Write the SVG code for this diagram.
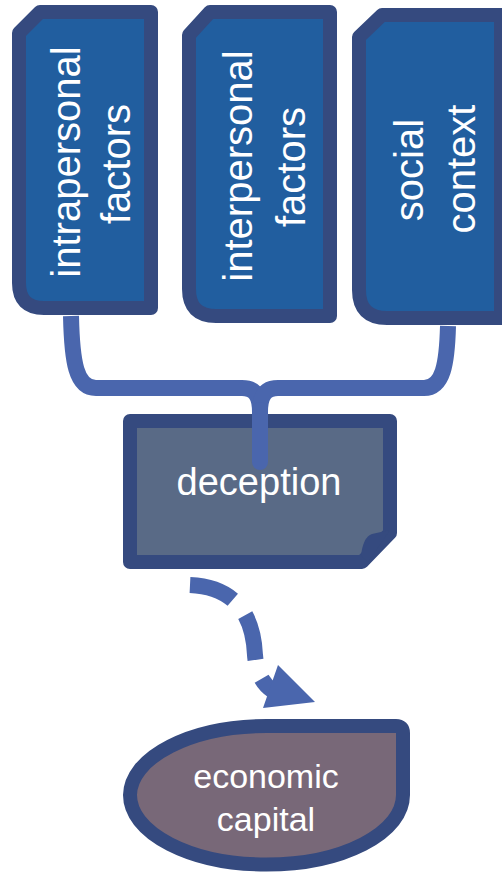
<svg xmlns="http://www.w3.org/2000/svg" width="502" height="872" viewBox="0 0 502 872">
<style>
.box{fill:#215E9F;stroke:#354A7F;stroke-width:14;stroke-linejoin:round}
.t{font-family:"Liberation Sans",Arial,sans-serif;fill:#FFFFFF;text-anchor:middle}
.con{fill:none;stroke:#4A66AD;stroke-width:16;stroke-linejoin:round}
</style>
<rect width="502" height="872" fill="#FFFFFF"/>
<g id="intrapersonal">
<path class="box" d="M40,12 L151,12 L151,308 L44,308 Q19,308 19,283 L19,33 Z"/>
<text class="t" font-size="40" transform="translate(80,162) rotate(-90)">intrapersonal</text>
<text class="t" font-size="40" transform="translate(130,164) rotate(-90)">factors</text>
</g>
<g id="interpersonal">
<path class="box" d="M210,12 L330,12 L330,316 L216,316 Q189,316 189,289 L189,35 Z"/>
<text class="t" font-size="40" transform="translate(252,166) rotate(-90)">interpersonal</text>
<text class="t" font-size="40" transform="translate(305,167) rotate(-90)">factors</text>
</g>
<g id="social">
<path class="box" d="M382,15 L501,15 L501,318 L387,318 Q359,318 359,290 L359,37 Z"/>
<text class="t" font-size="40" transform="translate(423,170) rotate(-90)">social</text>
<text class="t" font-size="40" transform="translate(475,169) rotate(-90)">context</text>
</g>
<g id="deception">
<path d="M130,421 L390,421 L390,533 L362,562 L130,562 Z" fill="#596A86" stroke="#354A7F" stroke-width="14" stroke-linejoin="round"/>
<path d="M390,530 L372,534 Q363,537 361,556 L368,562 Z" fill="#354A7F"/>
<text class="t" font-size="38" x="259" y="495">deception</text>
</g>
<g id="economic">
<path d="M403,733 L403,795 A136.5,69.5 0 0 1 266.5,864.5 A136.5,69.5 0 0 1 130,795 A136.5,69.5 0 0 1 266.5,726 L396,726 Q403,726 403,733 Z" fill="#786878" stroke="#354A7F" stroke-width="14" stroke-linejoin="round"/>
<text class="t" font-size="34" x="266" y="788">economic</text>
<text class="t" font-size="34" x="266" y="831">capital</text>
</g>
<g id="connectors">
<path class="con" d="M71,316 C72,362 76,388 96,388 L242,388 C255,388 260,396 260,412"/>
<path class="con" d="M448,326 C447,364 443,388 424,388 L278,388 C265,388 260,396 260,412"/>
<path class="con" stroke-linecap="round" d="M260,410 L260,462"/>
<path d="M190,585 Q252,588 255,655 Q257,680 272,690" fill="none" stroke="#4A66AD" stroke-width="16" stroke-dasharray="46,20"/>
<polygon points="263,708 315,702 278,665" fill="#4A66AD"/>
</g>
</svg>
